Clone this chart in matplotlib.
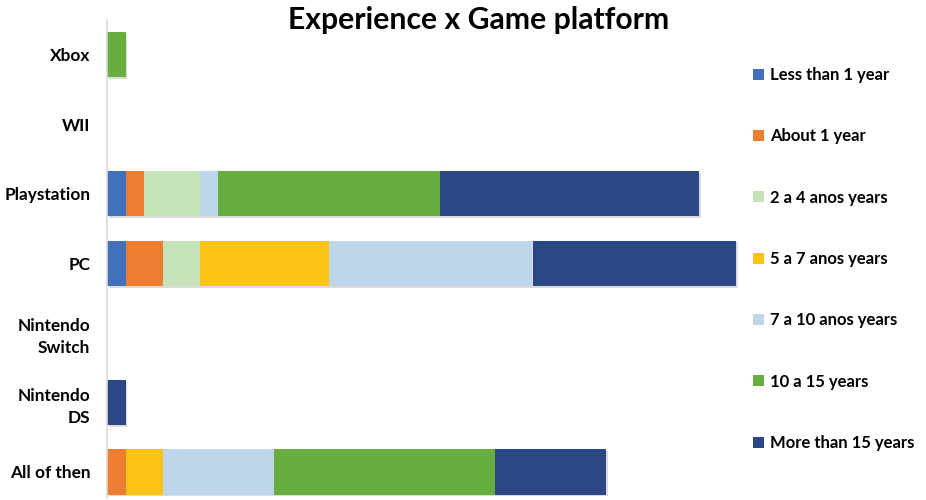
import matplotlib
matplotlib.use("Agg")
import matplotlib.pyplot as plt
import matplotlib.patheffects as pe
from matplotlib.patches import Patch
import numpy as np

plt.rcParams['font.family'] = ['Lato', 'DejaVu Sans']

platforms = ["Xbox", "WII", "Playstation", "PC", "Nintendo\nSwitch", "Nintendo\nDS", "All of then"]
experience = ["Less than 1 year", "About 1 year", "2 a 4 anos years", "5 a 7 anos years",
              "7 a 10 anos years", "10 a 15 years", "More than 15 years"]

less_than_1 = [0, 0, 1, 1, 0, 0, 0]
about_1 = [0, 0, 1, 2, 0, 0, 1]
years_2_4 = [0, 0, 3, 2, 0, 0, 0]
years_5_7 = [0, 0, 0, 7, 0, 0, 2]
years_7_10 = [0, 0, 1, 11, 0, 0, 6]
years_10_15 = [1, 0, 12, 0, 0, 0, 12]
more_than_15 = [0, 0, 14, 11, 0, 1, 6]

series = [less_than_1, about_1, years_2_4, years_5_7, years_7_10, years_10_15, more_than_15]
colors = ["#4170bd", "#ed7d31", "#c6e2b9", "#fac315", "#bdd6ec", "#67ad3f", "#2d4685"]

fig = plt.figure(figsize=(9.26, 5.0), dpi=100)
W, H = 926, 500
ax = fig.add_axes([107 / W, 1 - 498 / H, (745 - 107) / W, (498 - 20) / H])

y = np.arange(len(platforms))
left = np.zeros(len(platforms))
for vals, col in zip(series, colors):
    vals = np.array(vals, dtype=float)
    bars = ax.barh(y, vals, left=left, height=0.65, color=col, linewidth=0)
    for b, v in zip(bars, vals):
        if v == 0:
            b.set_visible(False)
        else:
            b.set_path_effects([pe.SimplePatchShadow(offset=(1.2, -1.2), shadow_rgbFace="#999999", alpha=0.35),
                                pe.Normal()])
    left += vals

ax.set_xlim(0, (745 - 107) / 18.5)
ax.set_ylim((498 - 55) / 69.5, -0.5)
ax.set_yticks(y)
ax.set_yticklabels(platforms, fontsize=12.4, fontweight="bold", linespacing=1.45)
ax.tick_params(axis="y", length=0, pad=12)
ax.set_xticks([])
for s in ["top", "right", "bottom"]:
    ax.spines[s].set_visible(False)
ax.spines["left"].set_color("#d9d9d9")
ax.spines["left"].set_linewidth(1.2)

fig.text(479 / W, 1 - 20 / H, "Experience x Game platform", ha="center", va="center",
         fontsize=21.7, fontweight="bold")

handles = [Patch(facecolor=c, edgecolor="none") for c in colors]
leg = fig.legend(handles=handles, labels=experience, loc="center left",
                 bbox_to_anchor=(753 / W, 1 - 259 / H), frameon=False,
                 prop={"size": 12, "weight": "bold"}, handlelength=0.65, handleheight=0.65,
                 handletextpad=0.4, labelspacing=2.72, borderpad=0, borderaxespad=0)

fig.savefig("out.png", dpi=100)
